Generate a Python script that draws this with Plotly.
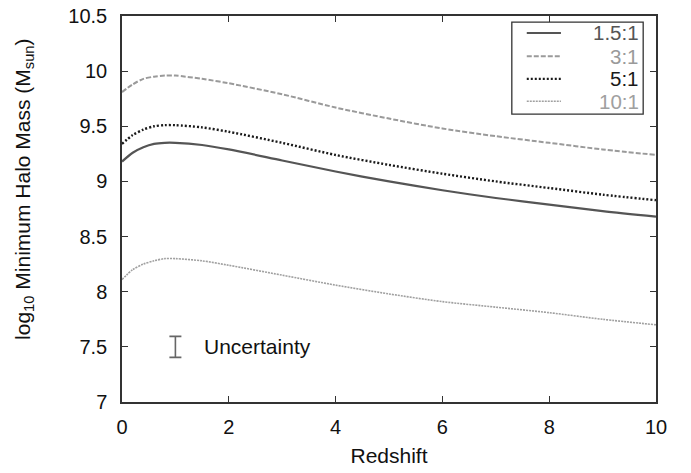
import plotly.graph_objects as go

redshift = [0, 0.2, 0.4, 0.6, 0.8, 1.0, 1.5, 2, 3, 4, 5, 6, 7, 8, 9, 10]
mass_1_5 = [9.18, 9.26, 9.31, 9.34, 9.35, 9.35, 9.33, 9.29, 9.19, 9.09, 9.00, 8.92, 8.85, 8.79, 8.73, 8.68]
mass_3 = [9.81, 9.88, 9.93, 9.95, 9.96, 9.96, 9.93, 9.89, 9.79, 9.67, 9.57, 9.48, 9.41, 9.35, 9.29, 9.24]
mass_5 = [9.34, 9.42, 9.47, 9.50, 9.51, 9.51, 9.49, 9.45, 9.35, 9.24, 9.15, 9.07, 9.00, 8.94, 8.88, 8.83]
mass_10 = [8.11, 8.20, 8.25, 8.28, 8.30, 8.30, 8.28, 8.24, 8.15, 8.06, 7.98, 7.91, 7.86, 7.81, 7.75, 7.70]

series_names = ["1.5:1", "3:1", "5:1", "10:1"]
series_values = [mass_1_5, mass_3, mass_5, mass_10]
series_colors = ["#555555", "#9a9a9a", "#1a1a1a", "#a0a0a0"]
series_dash = ["solid", "5px,2px", "2px,2px", "2px,1px"]
series_width = [2.2, 2.0, 2.4, 1.6]

unc_x = [1.0]
unc_y = [7.5]
unc_err = [0.095]

x_ticks = [0, 2, 4, 6, 8, 10]
y_ticks = [7, 7.5, 8, 8.5, 9, 9.5, 10, 10.5]
y_tick_labels = ["7", "7.5", "8", "8.5", "9", "9.5", "10", "10.5"]

FONT = "Liberation Sans, Arial, Helvetica, sans-serif"

fig = go.Figure()
for name, vals, col, dash, w in zip(series_names, series_values, series_colors, series_dash, series_width):
    fig.add_trace(go.Scatter(x=redshift, y=vals, mode="lines", name=name,
                             line=dict(color=col, dash=dash, width=w, shape="spline", smoothing=0.8),
                             showlegend=False))

fig.add_trace(go.Scatter(x=unc_x, y=unc_y, mode="markers", marker=dict(size=0.1, color="#666666"),
                         error_y=dict(type="data", array=unc_err, color="#666666", thickness=1.6, width=6),
                         showlegend=False, name="Uncertainty"))

fig.add_annotation(x=1.5, y=7.5, xref="x", yref="y", text="Uncertainty", showarrow=False,
                   xanchor="left", yanchor="middle", font=dict(size=21, color="#111111", family=FONT))

# legend box (gnuplot-style, right-aligned text)
fig.add_shape(type="rect", xref="paper", yref="paper", x0=0.730, x1=0.976, y0=0.746, y1=0.984,
              line=dict(color="#333333", width=1.3), fillcolor="white", layer="above")
row_y = [0.956, 0.896, 0.837, 0.779]
for name, col, dash, w, yy in zip(series_names, series_colors, series_dash, series_width, row_y):
    fig.add_shape(type="line", xref="paper", yref="paper", x0=0.758, x1=0.822, y0=yy, y1=yy,
                  line=dict(color=col, dash=dash, width=w), layer="above")
    fig.add_annotation(x=0.972, y=yy, xref="paper", yref="paper", text=name, showarrow=False,
                       xanchor="right", yanchor="middle",
                       font=dict(size=20.5, color=col, family=FONT))

fig.add_annotation(x=-0.185, y=0.55, xref="paper", yref="paper", textangle=-90,
                   text="log<sub>10</sub> Minimum Halo Mass (M<sub>sun</sub>)", showarrow=False,
                   xanchor="center", yanchor="middle", font=dict(size=21, color="#111111", family=FONT))

axis_common = dict(showgrid=False, zeroline=False, showline=True, linecolor="#333333", linewidth=1.5,
                   mirror="ticks", ticks="inside", ticklen=6, tickwidth=1.2, tickcolor="#333333",
                   automargin=False,
                   tickfont=dict(size=20, color="#111111", family=FONT))

fig.update_layout(
    width=691, height=473,
    margin=dict(l=122, r=35, t=16, b=71),
    paper_bgcolor="white", plot_bgcolor="white",
    xaxis=dict(range=[0, 10], tickvals=x_ticks, ticklabelstandoff=6,
               title=dict(text="Redshift", font=dict(size=21, color="#111111", family=FONT), standoff=12),
               **axis_common),
    yaxis=dict(range=[7, 10.5], tickvals=y_ticks, ticktext=y_tick_labels, ticklabelstandoff=9,
               **axis_common),
    showlegend=False,
)

fig.write_html("out.html", config={"displayModeBar": False},
               post_script="document.body.style.margin='0';document.body.style.overflow='hidden';")
